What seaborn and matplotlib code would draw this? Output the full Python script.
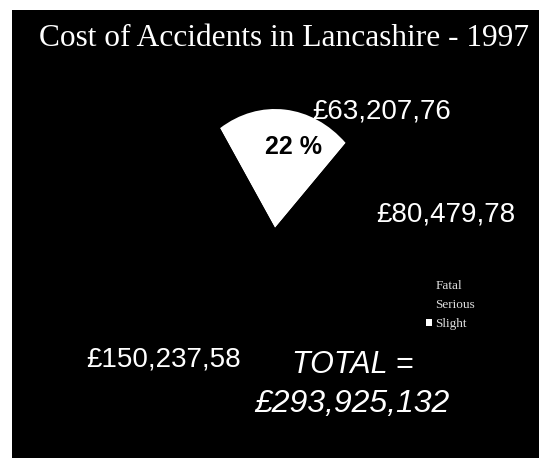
import matplotlib
matplotlib.use("Agg")
import matplotlib.pyplot as plt
import seaborn as sns
from matplotlib.patches import Rectangle, Patch

# data
categories = ["Fatal", "Serious", "Slight"]
costs = [6320776, 8047978, 15023758]
cost_labels = ["£63,207,76", "£80,479,78", "£150,237,58"]
total_label = "£293,925,132"
title = "Cost of Accidents in Lancashire - 1997"

sns.set_theme(style="white")
plt.rcParams["font.family"] = ["Liberation Sans", "DejaVu Sans"]

W, H = 539, 459
fig = plt.figure(figsize=(W / 100, H / 100), dpi=100, facecolor="white")

def fx(px):
    return px / W

def fy(py):
    return (H - py) / H

# black slide area
fig.add_artist(Rectangle((fx(12), fy(458)), fx(527), 448 / H,
                         transform=fig.transFigure, facecolor="black",
                         edgecolor="none", zorder=0))

# pie (scanned slide is squeezed horizontally, so no equal aspect)
cx, cy, rx, ry = 275, 228, 101, 119
ax = fig.add_axes([fx(cx - rx), fy(cy + ry), 2 * rx / W, 2 * ry / H])
slice_colors = ["white", "black", "black"]

def pct_fmt(p):
    return f"{p:.0f} %" if p > 20 and p < 25 else ""

wedges, _, autotexts = ax.pie(costs, colors=slice_colors, startangle=123,
                              counterclock=False, autopct=pct_fmt,
                              pctdistance=0.7,
                              wedgeprops=dict(linewidth=0))
ax.set_aspect("auto")
ax.set_xlim(-1, 1)
ax.set_ylim(-1, 1)
ax.set_axis_off()
for t in autotexts:
    t.set_color("black")
    t.set_fontweight("bold")
    t.set_fontsize(18)
    t.set_position((0.18, 0.68))

fig.text(fx(39), fy(39), title, color="white", fontsize=22.6,
         family="Liberation Serif", ha="left", va="center")

# value labels
label_pos = [(382, 111), (446, 215), (164, 360)]
for (px, py), lab in zip(label_pos, cost_labels):
    fig.text(fx(px), fy(py), lab, color="white", fontsize=20,
             ha="center", va="center")

fig.text(fx(353), fy(365), "TOTAL =", color="white", fontsize=22,
         style="italic", ha="center", va="center")
fig.text(fx(352), fy(404), total_label, color="white", fontsize=23,
         style="italic", ha="center", va="center")

# legend
handle_colors = ["black", "black", "white"]
handles = [Patch(facecolor=c, edgecolor="none", label=n)
           for c, n in zip(handle_colors, categories)]
fig.legend(handles=handles, loc="upper left",
           bbox_to_anchor=(fx(419), fy(273)), frameon=False,
           prop=dict(family="Liberation Serif", size=9.5),
           labelcolor="#dddddd", handlelength=0.45, handleheight=0.45,
           handletextpad=0.3, labelspacing=0.55, borderpad=0)

fig.savefig("out.png", dpi=100, facecolor="white")
